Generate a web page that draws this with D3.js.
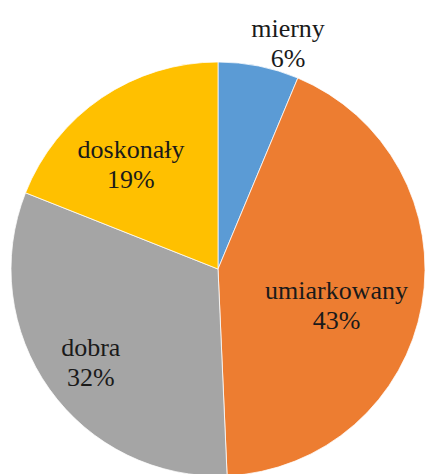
<!DOCTYPE html>
<html>
<head>
<meta charset="utf-8">
<script src="https://cdn.jsdelivr.net/npm/d3@7"></script>
<style>
  html, body { margin: 0; padding: 0; background: #fff; }
  #wrap { position: relative; width: 425px; height: 474px; overflow: hidden; }
  svg { display: block; position: absolute; left: 0; top: 0; }
  .lbl { position: absolute; white-space: nowrap; transform: translateX(-50%);
         font-family: "Liberation Serif", Tinos, "Times New Roman", serif;
         font-size: 26px; line-height: 30px; text-align: center; color: #1a1a1a; }
</style>
</head>
<body>
<div id="wrap"><svg id="chart" width="425" height="474"></svg></div>
<script>
// Data
const categories = ["mierny", "umiarkowany", "dobra", "doskonały"];
const values = [6.3, 43, 31.7, 19];
const percentLabels = ["6%", "43%", "32%", "19%"];
const colors = ["#5B9BD5", "#ED7D31", "#A5A5A5", "#FFC000"];

// Label layout (radius as fraction of pie radius, angle shift in degrees from slice middle)
const labelRadiusFrac = [1.161, 0.593, 0.751, 0.674];
const labelAngleShift = [5.6, 5.0, 0.4, -4.4];

const cx = 218, cy = 269, R = 207;

const svg = d3.select("#chart");
const g = svg.append("g").attr("transform", `translate(${cx},${cy})`);

const data = categories.map((c, i) => ({ name: c, value: values[i], pct: percentLabels[i], color: colors[i], idx: i }));

const pie = d3.pie().value(d => d.value).sort(null);
const arcs = pie(data);
const arc = d3.arc().innerRadius(0).outerRadius(R);

g.selectAll("path.slice")
  .data(arcs)
  .join("path")
  .attr("class", "slice")
  .attr("d", arc)
  .attr("fill", d => d.data.color)
  .attr("stroke", "#fff")
  .attr("stroke-width", 0.75);

function labelPos(d) {
  const i = d.data.idx;
  const mid = (d.startAngle + d.endAngle) / 2 + labelAngleShift[i] * Math.PI / 180;
  const r = R * labelRadiusFrac[i];
  return [cx + r * Math.sin(mid), cy - r * Math.cos(mid)];
}

// HTML labels: first baseline ~3px above anchor, second 30px lower
const wrap = d3.select("#wrap");
arcs.forEach(d => {
  const [x, y] = labelPos(d);
  const div = wrap.append("div")
    .attr("class", "lbl")
    .style("left", x + "px")
    .style("top", (y - 25) + "px");
  div.append("div").text(d.data.name);
  div.append("div").text(d.data.pct);
});
</script>
</body>
</html>
